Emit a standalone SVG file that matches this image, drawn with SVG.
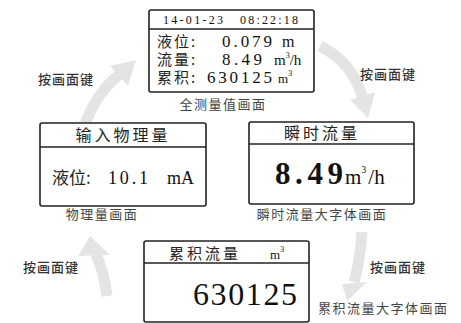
<svg xmlns="http://www.w3.org/2000/svg" width="461" height="323" viewBox="0 0 461 323">
<style>
.box{fill:#fff;stroke:#222;stroke-width:1.6}
.div{stroke:#222;stroke-width:1.3}
.cn{font-family:"Noto Sans CJK SC","Noto Sans",sans-serif;fill:#222}
.num{font-family:"Liberation Serif","DejaVu Serif",serif;fill:#111}
.cap{font-family:"Noto Sans CJK SC","Noto Sans",sans-serif;font-size:13px;fill:#444;letter-spacing:1.5px}
.lbl{font-family:"Noto Sans CJK SC","Noto Sans",sans-serif;font-size:13px;fill:#333;font-weight:500;letter-spacing:1px}
.arr{fill:none;stroke:#e4e4e4;stroke-width:11}
.head{fill:#e4e4e4}
</style>
<rect width="461" height="323" fill="#fff"/>
<g id="connectors">
<path class="arr" d="M85 124 Q97 92 120 74"/>
<polygon class="head" points="136,60 128,86 110,66"/>
<path class="arr" d="M320 46 Q352 62 362 96"/>
<polygon class="head" points="368,118 375,92 350,100"/>
<path class="arr" d="M362 232 Q360 262 354 282"/>
<polygon class="head" points="347,301 367,282 342,284"/>
<path class="arr" d="M107 296 Q104 272 96 254"/>
<polygon class="head" points="90,236 110,255 78,256"/>
</g>
<g id="label-tl"><text class="lbl" x="38" y="84">按画面键</text></g>
<g id="label-tr"><text class="lbl" x="360" y="79">按画面键</text></g>
<g id="label-br"><text class="lbl" x="370" y="272">按画面键</text></g>
<g id="label-bl"><text class="lbl" x="23" y="272">按画面键</text></g>
<g id="node-all">
<rect class="box" x="149" y="10" width="165" height="82" rx="2"/>
<line class="div" x1="149" y1="29" x2="314" y2="29"/>
<text class="num" x="163" y="24" font-size="12" textLength="60" lengthAdjust="spacing">14-01-23</text>
<text class="num" x="240" y="24" font-size="12" textLength="58" lengthAdjust="spacing">08:22:18</text>
<text class="cn" x="157" y="47" font-size="15" letter-spacing="2">液位:</text>
<text class="num" x="222" y="47" font-size="17" textLength="50" lengthAdjust="spacing">0.079</text>
<text class="num" x="282" y="47" font-size="16">m</text>
<text class="cn" x="157" y="65" font-size="15" fill="#444" letter-spacing="2">流量:</text>
<text class="num" x="222" y="65" font-size="17" textLength="40" lengthAdjust="spacing">8.49</text>
<text class="num" x="274" y="65" font-size="15">m<tspan font-size="8" dy="-7">3</tspan><tspan dy="7">/h</tspan></text>
<text class="cn" x="157" y="83" font-size="15" fill="#444" letter-spacing="2">累积:</text>
<text class="num" x="207" y="83" font-size="17" textLength="65" lengthAdjust="spacing">630125</text>
<text class="num" x="278" y="83" font-size="13">m<tspan font-size="8" dy="-7">3</tspan></text>
<text class="cap" x="223" y="109" text-anchor="middle">全测量值画面</text>
</g>
<g id="node-phys">
<rect class="box" x="40" y="123" width="166" height="83" rx="2"/>
<line class="div" x1="40" y1="147" x2="206" y2="147"/>
<text class="cn" x="123" y="141" font-size="16" text-anchor="middle" letter-spacing="3">输入物理量</text>
<text class="cn" x="52" y="184" font-size="17">液位:</text>
<text class="num" x="108" y="184" font-size="18" textLength="40" lengthAdjust="spacing">10.1</text>
<text class="num" x="167" y="184" font-size="18">mA</text>
<text class="cap" x="102" y="219" text-anchor="middle">物理量画面</text>
</g>
<g id="node-inst">
<rect class="box" x="249" y="122" width="165" height="82" rx="2"/>
<line class="div" x1="249" y1="144" x2="414" y2="144"/>
<text class="cn" x="322" y="139" font-size="16" text-anchor="middle" letter-spacing="3">瞬时流量</text>
<text class="num" x="275" y="184" font-size="31" font-weight="bold" textLength="68" lengthAdjust="spacing">8.49</text>
<text class="num" x="345" y="184" font-size="21">m<tspan font-size="10" dy="-11">3</tspan><tspan dy="11" dx="2">/h</tspan></text>
<text class="cap" x="322" y="219" text-anchor="middle">瞬时流量大字体画面</text>
</g>
<g id="node-total">
<rect class="box" x="144" y="241" width="165" height="81" rx="2"/>
<line class="div" x1="144" y1="263" x2="309" y2="263"/>
<text class="cn" x="205" y="259" font-size="15" text-anchor="middle" letter-spacing="3">累积流量</text>
<text class="num" x="270" y="259" font-size="13">m<tspan font-size="8" dy="-7">3</tspan></text>
<text class="num" x="193" y="305" font-size="32" textLength="104" lengthAdjust="spacing">630125</text>
<text class="cap" x="318" y="313">累积流量大字体画面</text>
</g>
</svg>
